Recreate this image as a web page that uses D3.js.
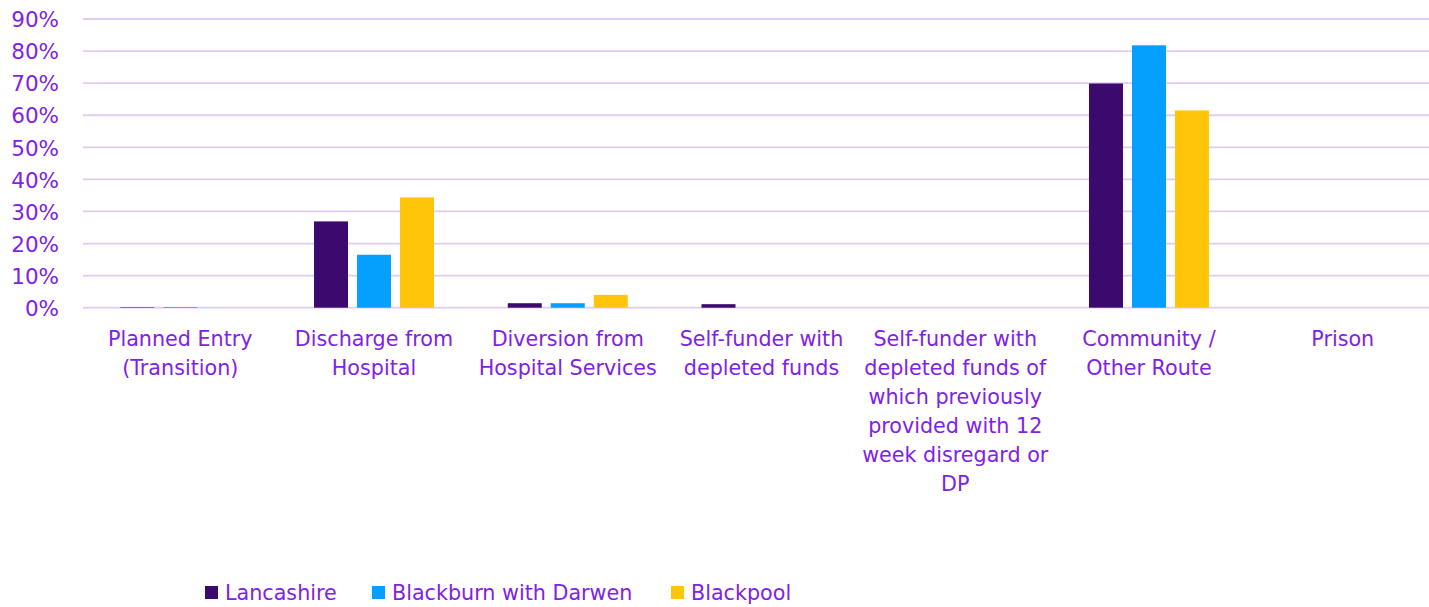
<!DOCTYPE html>
<html>
<head>
<meta charset="utf-8">
<script src="https://cdn.jsdelivr.net/npm/d3@7"></script>
<style>
  html, body { margin: 0; padding: 0; background: #fff; }
  svg { display: block; }
  text { font-family: "DejaVu Sans", Verdana, sans-serif; fill: #7F22E6; }
</style>
</head>
<body>
<svg id="chart" width="1429" height="607"></svg>
<script>
const categories = [
  ["Planned Entry", "(Transition)"],
  ["Discharge from", "Hospital"],
  ["Diversion from", "Hospital Services"],
  ["Self-funder with", "depleted funds"],
  ["Self-funder with", "depleted funds of", "which previously", "provided with 12", "week disregard or", "DP"],
  ["Community /", "Other Route"],
  ["Prison"]
];
const seriesNames = ["Lancashire", "Blackburn with Darwen", "Blackpool"];
const seriesColors = ["#3C0A6F", "#05A0FE", "#FFC609"];
const lancashire = [0.15, 26.9, 1.4, 1.1, 0, 69.9, 0];
const blackburn = [0.2, 16.5, 1.4, 0, 0, 81.8, 0];
const blackpool = [0, 34.4, 4.0, 0, 0, 61.5, 0];
const yTicks = [0, 10, 20, 30, 40, 50, 60, 70, 80, 90];

const seriesValues = [lancashire, blackburn, blackpool];
const svg = d3.select("#chart");
const catKeys = categories.map((c, i) => i);

const x0 = d3.scaleBand().domain(catKeys).range([83.4, 1439.6]).paddingInner(0).paddingOuter(0);
const groupW = 120;
const x1 = d3.scaleBand().domain(seriesNames).range([0, groupW]).paddingInner(9 / 43).paddingOuter(0);
const y = d3.scaleLinear().domain([0, 90]).range([307.7, 19]);

// gridlines
svg.append("g").selectAll("line").data(yTicks).join("line")
  .attr("x1", 83).attr("x2", 1429)
  .attr("y1", d => y(d)).attr("y2", d => y(d))
  .attr("stroke", "#DFCBF7").attr("stroke-width", 1.8);

// y axis labels
const yAxis = d3.axisLeft(y).tickValues(yTicks).tickFormat(d => d + "%").tickSize(0).tickPadding(0);
const yg = svg.append("g").attr("transform", "translate(59,0)").call(yAxis);
yg.select(".domain").remove();
yg.selectAll("text").attr("font-size", 21.5).attr("fill", "#7F22E6")
  .attr("font-family", "DejaVu Sans, Verdana, sans-serif").attr("dy", "0.36em");

// bars
const groups = svg.append("g").selectAll("g").data(catKeys).join("g")
  .attr("transform", d => `translate(${x0(d) + (x0.bandwidth() - groupW) / 2},0)`);
groups.selectAll("rect").data(ci => seriesNames.map((s, si) => ({ s, si, v: seriesValues[si][ci] })))
  .join("rect")
  .attr("x", d => x1(d.s))
  .attr("width", x1.bandwidth())
  .attr("y", d => y(d.v))
  .attr("height", d => y(0) - y(d.v))
  .attr("fill", d => seriesColors[d.si]);

// category labels
const catG = svg.append("g").selectAll("text").data(catKeys).join("text")
  .attr("text-anchor", "middle")
  .attr("font-size", 20.7)
  .attr("x", d => x0(d) + x0.bandwidth() / 2)
  .attr("y", 346);
catG.selectAll("tspan").data(d => categories[d]).join("tspan")
  .attr("x", function () { return d3.select(this.parentNode).attr("x"); })
  .attr("dy", (d, i) => i === 0 ? 0 : 29)
  .text(d => d);

// legend
const legendX = [205, 372, 671];
const lg = svg.append("g").selectAll("g").data(seriesNames).join("g")
  .attr("transform", (d, i) => `translate(${legendX[i]},0)`);
lg.append("rect").attr("x", 0).attr("y", 586).attr("width", 13).attr("height", 13)
  .attr("fill", (d, i) => seriesColors[i]);
lg.append("text").attr("x", 20).attr("y", 600).attr("font-size", 20.7).text(d => d);
</script>
</body>
</html>
